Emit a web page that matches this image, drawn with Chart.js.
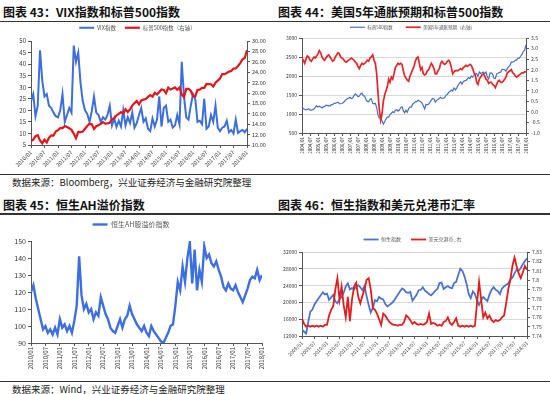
<!DOCTYPE html>
<html>
<head>
<meta charset="utf-8">
<script src="https://cdn.jsdelivr.net/npm/chart.js@4.4.1/dist/chart.umd.min.js"></script>
<style>
  body { margin: 0; width: 550px; height: 394px; position: relative; overflow: hidden; background: #fff;
         font-family: "Noto Sans CJK SC", sans-serif; color: #111; }
  .title { position: absolute; font-size: 12px; font-weight: 700; line-height: 14px; white-space: nowrap; }
  .src { position: absolute; font-size: 9.5px; line-height: 12px; white-space: nowrap; color: #222; }
  .rule { position: absolute; left: 0; width: 550px; height: 1.5px; background: #333; }
  canvas { position: absolute; }
</style>
</head>
<body>
<div class="title" style="left:3px;top:5px">图表 43：VIX指数和标普500指数</div>
<div class="title" style="left:278px;top:5px">图表 44：美国5年通胀预期和标普500指数</div>
<div class="rule" style="top:20.5px"></div>
<div class="rule" style="top:173.5px"></div>
<div class="src" style="left:12px;top:176px">数据来源：Bloomberg，兴业证券经济与金融研究院整理</div>
<div class="title" style="left:3px;top:198px">图表 45：恒生AH溢价指数</div>
<div class="title" style="left:278px;top:198px">图表 46：恒生指数和美元兑港币汇率</div>
<div class="rule" style="top:213px"></div>
<div class="rule" style="top:380.5px"></div>
<div class="src" style="left:12px;top:383px">数据来源：Wind，兴业证券经济与金融研究院整理</div>

<canvas id="c43" width="275" height="156" style="left:0;top:16px"></canvas>
<canvas id="c44" width="275" height="160" style="left:275px;top:12px"></canvas>
<canvas id="c45" width="275" height="161" style="left:0;top:219px"></canvas>
<canvas id="c46" width="275" height="153" style="left:275px;top:227px"></canvas>

<script>
// 横轴标签（半年一个）
const labels43 = ['2010/01','2010/07','2011/01','2011/07','2012/01','2012/07','2013/01','2013/07','2014/01',
  '2014/07','2015/01','2015/07','2016/01','2016/07','2017/01','2017/07','2018/01'];
const labels44 = ['2004/01','2004/07','2005/01','2005/07','2006/01','2006/07','2007/01','2007/07','2008/01',
  '2008/07','2009/01','2009/07','2010/01','2010/07','2011/01','2011/07','2012/01','2012/07','2013/01',
  '2013/07','2014/01','2014/07','2015/01','2015/07','2016/01','2016/07','2017/01','2017/07','2018/01'];
const labels46 = ['2009/01','2009/07','2010/01','2010/07','2011/01','2011/07','2012/01','2012/07','2013/01',
  '2013/07','2014/01','2014/07','2015/01','2015/07','2016/01','2016/07','2017/01','2017/07','2018/01'];

// 月度数据
// 标普500指数 2004/01 - 2018/01
const spx = [
  1131, 1145, 1126, 1107, 1121, 1141, 1102, 1104, 1115, 1130, 1174, 1212,
  1181, 1204, 1181, 1157, 1192, 1191, 1234, 1220, 1229, 1207, 1249, 1248,
  1280, 1281, 1295, 1311, 1270, 1270, 1277, 1304, 1336, 1378, 1401, 1418,
  1438, 1407, 1421, 1482, 1531, 1503, 1455, 1474, 1527, 1549, 1481, 1468,
  1379, 1331, 1323, 1386, 1400, 1280, 1267, 1283, 1166, 969, 896, 903,
  826, 735, 798, 873, 919, 919, 987, 1021, 1057, 1036, 1096, 1115,
  1074, 1104, 1169, 1187, 1089, 1031, 1102, 1049, 1141, 1183, 1181, 1258,
  1286, 1327, 1326, 1364, 1345, 1321, 1292, 1219, 1131, 1253, 1247, 1258,
  1312, 1366, 1408, 1398, 1310, 1362, 1379, 1407, 1441, 1412, 1416, 1426,
  1498, 1515, 1569, 1598, 1631, 1606, 1686, 1633, 1682, 1757, 1806, 1848,
  1783, 1859, 1872, 1884, 1924, 1960, 1931, 2003, 1972, 2018, 2068, 2059,
  1995, 2105, 2068, 2086, 2107, 2063, 2104, 1972, 1920, 2079, 2080, 2044,
  1940, 1932, 2060, 2065, 2097, 2099, 2174, 2171, 2168, 2126, 2199, 2239,
  2279, 2364, 2363, 2384, 2412, 2423, 2470, 2472, 2519, 2575, 2648, 2674,
  2824
];
// VIX 2010/01 - 2018/01
const vix = [
  24, 27, 17.5, 22, 46, 33, 26, 27, 22, 21, 19, 17.5,
  17, 20, 27, 15, 18, 21, 19, 48, 41, 45, 32, 24,
  20, 18.5, 15, 19.5, 26, 19, 18, 15, 17, 16, 18, 22,
  13.5, 16.5, 12.8, 15.5, 13, 20, 13.5, 17, 14.5, 19, 12.5, 14.5,
  18, 21, 15, 16.5, 12, 11, 16.5, 13, 16, 26, 13, 21,
  22, 15, 16, 12.5, 13.5, 18, 14, 41, 26, 17, 16, 22,
  27, 25, 15, 15.5, 14, 25, 12, 13, 18, 15, 22, 12.5,
  11, 12.5, 13, 15.5, 10.5, 11.5, 10, 16, 10.2, 11, 11.5, 10.5,
  12
];
// 美国5年通胀预期(%) 2004/01 - 2018/01
const breakeven = [
  2.55, 2.45, 2.3, 2.5, 2.65, 2.6, 2.45, 2.4, 2.5, 2.6, 2.55, 2.65,
  2.75, 2.9, 2.8, 2.6, 2.5, 2.45, 2.55, 2.65, 2.7, 2.6, 2.5, 2.4,
  2.45, 2.6, 2.7, 2.8, 2.75, 2.6, 2.55, 2.5, 2.4, 2.35, 2.4, 2.45,
  2.5, 2.55, 2.5, 2.45, 2.35, 2.3, 2.15, 2.05, 2.2, 2.3, 2.25, 2.3,
  2.35, 2.45, 2.4, 2.55, 2.6, 2.7, 2.45, 2.3, 1.8, 0.9, 0.1, -0.4,
  -0.1, 0.5, 0.8, 1.0, 1.2, 1.55, 1.4, 1.65, 1.55, 1.8, 2.1, 2.2,
  2.3, 2.25, 2.3, 2.25, 1.95, 1.7, 1.6, 1.5, 1.45, 1.7, 1.85, 2.0,
  2.15, 2.4, 2.55, 2.6, 2.3, 2.0, 2.1, 1.8, 1.75, 1.8, 1.95, 2.0,
  2.15, 2.3, 2.2, 2.05, 1.8, 1.8, 1.95, 2.05, 2.3, 2.4, 2.3, 2.25,
  2.3, 2.4, 2.45, 2.35, 2.1, 1.8, 1.9, 1.95, 1.95, 1.95, 2.0, 2.05,
  2.0, 2.1, 2.15, 2.2, 2.15, 2.2, 2.25, 2.2, 2.05, 1.85, 1.75, 1.4,
  1.3, 1.55, 1.65, 1.75, 1.8, 1.7, 1.55, 1.5, 1.35, 1.4, 1.4, 1.3,
  1.25, 1.15, 1.3, 1.45, 1.5, 1.4, 1.4, 1.45, 1.55, 1.65, 1.85, 1.9,
  1.95, 2.0, 1.85, 1.8, 1.7, 1.65, 1.7, 1.75, 1.8, 1.85, 1.85, 1.9,
  1.9
];
// 恒生AH股溢价指数 2010/01 - 2018/01
const ahPremium = [
  120, 124, 116, 110, 104, 98, 100, 96, 98, 95, 99, 95,
  104, 99, 101, 97, 100, 96, 103, 112, 141, 118, 110, 113,
  108, 110, 104, 108, 106, 117, 112, 107, 104, 99, 97, 96,
  100, 104, 99, 104, 106, 112, 107, 104, 101, 99, 97, 100,
  96, 94, 100, 97, 95, 93, 91, 90, 93, 96, 100, 101,
  112, 126, 121, 135, 126, 140, 149, 125, 145, 121, 133, 126,
  147, 140, 142, 137, 135, 138, 133, 129, 123, 121, 125, 122,
  121, 124, 120, 117, 114, 118, 122, 127, 129, 128, 133, 127,
  130
];
// 恒生指数 2009/01 - 2018/01
const hsi = [
  13600, 13000, 12600, 15400, 17800, 18300, 19500, 20300, 21000, 21700, 22400, 21900,
  22100, 20600, 21200, 21800, 20200, 19800, 20800, 21300, 22300, 23800, 24500, 23100,
  23400, 23100, 23700, 24100, 23600, 22900, 23900, 21500, 19400, 17600, 18700, 20500,
  20300, 21300, 20900, 20700, 19600, 19000, 19400, 19800, 20300, 21100, 21800, 22600,
  23300, 23000, 22400, 22300, 22500, 20400, 21100, 21800, 22900, 23000, 23600, 22800,
  22400, 22000, 21700, 22200, 22800, 23200, 24600, 24700, 23200, 23600, 23900, 23500,
  23400, 24600, 24900, 26500, 28000, 27500, 26200, 24400, 22000, 21000, 22600, 22000,
  20500, 19400, 20500, 21300, 20800, 20300, 21900, 23000, 23600, 23000, 22700, 22000,
  23300, 23800, 24200, 24500, 25500, 25900, 26900, 27800, 27500, 28200, 29100, 29800,
  30500
];
// 美元兑港币 2009/01 - 2018/01
const usdhkd = [
  7.759, 7.753, 7.750, 7.751, 7.750, 7.751, 7.750, 7.751, 7.750, 7.751, 7.750, 7.752,
  7.752, 7.762, 7.768, 7.772, 7.790, 7.802, 7.779, 7.793, 7.773, 7.760, 7.782, 7.756,
  7.779, 7.793, 7.797, 7.782, 7.775, 7.783, 7.790, 7.800, 7.802, 7.790, 7.770, 7.768,
  7.764, 7.758, 7.752, 7.764, 7.762, 7.758, 7.755, 7.753, 7.752, 7.752, 7.751, 7.752,
  7.752, 7.755, 7.762, 7.760, 7.757, 7.753, 7.755, 7.753, 7.752, 7.753, 7.752, 7.753,
  7.755, 7.764, 7.753, 7.754, 7.753, 7.751, 7.752, 7.751, 7.755, 7.756, 7.760, 7.754,
  7.752, 7.755, 7.759, 7.751, 7.750, 7.751, 7.750, 7.751, 7.750, 7.751, 7.750, 7.751,
  7.775, 7.798, 7.779, 7.760, 7.765, 7.759, 7.762, 7.757, 7.755, 7.757, 7.756, 7.757,
  7.760, 7.762, 7.775, 7.790, 7.800, 7.815, 7.824, 7.815, 7.807, 7.802, 7.808, 7.815,
  7.811
];

const AXIS = '#555';
const GRID = '#d9d9d9';
Chart.defaults.font.family = '"Noto Sans CJK SC", sans-serif';
Chart.defaults.color = '#333';
Chart.defaults.animation = false;

// 固定图例高度，方便对齐绘图区
Chart.register({
  id: 'fixLegend',
  beforeLayout(chart, args, opts) {
    const lg = chart.legend;
    if (!lg || lg._fixed || !opts.height) return;
    const fit = lg.fit;
    lg.fit = function () { fit.call(this); this.height = opts.height; };
    lg._fixed = true;
  }
});

function line(label, values, color, width, axis, order) {
  return {
    label, data: values.map((y, i) => ({ x: i, y })),
    borderColor: color, backgroundColor: color, borderWidth: width,
    pointRadius: 0, pointStyle: 'line', tension: 0, yAxisID: axis, order
  };
}

function xScale(labels, rot, size, height) {
  return {
    type: 'linear', min: 0, max: (labels.length - 1) * 6,
    grid: { drawOnChartArea: false, tickLength: 3, color: AXIS },
    border: { color: AXIS },
    ticks: { stepSize: 6, autoSkip: false, minRotation: rot, maxRotation: rot, padding: 1,
             font: { size }, callback: v => labels[v / 6] },
    afterFit: s => { s.height = height; }
  };
}

function yScale(position, min, max, step, size, width, grid, fmt) {
  return {
    position, min, max,
    grid: { drawOnChartArea: grid, tickLength: 3, color: grid ? GRID : AXIS, tickColor: AXIS },
    border: { color: AXIS },
    ticks: { stepSize: step, padding: 2, font: { size }, callback: fmt || (v => String(v)) },
    afterFit: sc => { sc.width = width; }
  };
}

function legend(size, padding, height) {
  return {
    legend: { labels: { usePointStyle: true, pointStyleWidth: 15, padding, color: '#555',
                        font: { size }, sort: (a, b) => a.datasetIndex - b.datasetIndex } },
    tooltip: { enabled: false },
    fixLegend: { height }
  };
}

// 图表43
new Chart(document.getElementById('c43'), {
  type: 'line',
  data: { datasets: [
    line('VIX指数', vix, '#3c6fdc', 2, 'y', 1),
    line('标普500指数（右轴）', spx.slice(72), '#e3161b', 2.2, 'y1', 0)
  ] },
  options: {
    responsive: false,
    plugins: legend(5.5, 9, 25),
    scales: {
      x: xScale(labels43, 45, 5.5, 27),
      y: yScale('left', 5, 50, 5, 6, 31, false),
      y1: yScale('right', 1000, 3000, 200, 5.5, 28, false, v => (v / 100).toFixed(2))
    }
  }
});

// 图表44
new Chart(document.getElementById('c44'), {
  type: 'line',
  data: { datasets: [
    line('标普500指数', spx, '#4a6fbf', 1.2, 'y', 1),
    line('美国5年通胀预期（右轴）', breakeven, '#e2262b', 1.7, 'y1', 0)
  ] },
  options: {
    responsive: false,
    plugins: legend(4.5, 13, 26),
    scales: {
      x: xScale(labels44, 90, 4.5, 39),
      y: yScale('left', 500, 3000, 500, 5, 27, true),
      y1: yScale('right', -1, 3.5, 0.5, 5, 24, false, v => v.toFixed(1))
    }
  }
});

// 图表45
new Chart(document.getElementById('c45'), {
  type: 'line',
  data: { datasets: [ line('恒生AH股溢价指数', ahPremium, '#3d6fe0', 2.4, 'y', 0) ] },
  options: {
    responsive: false,
    layout: { padding: { right: 13 } },
    plugins: legend(7, 2, 22),
    scales: {
      x: xScale(labels43, 90, 6, 37),
      y: yScale('left', 90, 150, 10, 7, 31, false)
    }
  }
});

// 图表46
new Chart(document.getElementById('c46'), {
  type: 'line',
  data: { datasets: [
    line('恒生指数', hsi, '#4a74cf', 1.8, 'y', 1),
    line('美元兑港币_右', usdhkd, '#e01e1e', 1.8, 'y1', 0)
  ] },
  options: {
    responsive: false,
    plugins: legend(5, 10, 25),
    scales: {
      x: xScale(labels46, 45, 5, 44),
      y: yScale('left', 12000, 32000, 2000, 5, 27, true),
      y1: yScale('right', 7.74, 7.83, 0.01, 5, 23, false, v => String(+v.toFixed(2)))
    }
  }
});
</script>
</body>
</html>
